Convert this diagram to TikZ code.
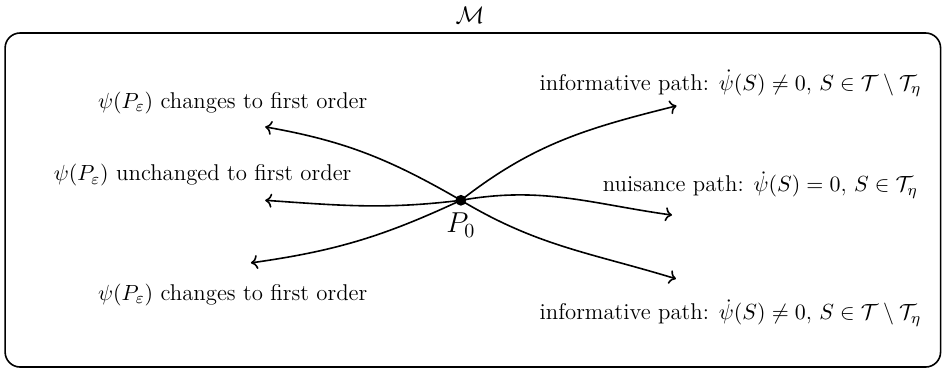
\documentclass[tikz,border=0pt]{standalone}
\usepackage{amsmath,amssymb}
\usetikzlibrary{arrows.meta,positioning}
\tikzset{
  tan/frame/.style={
    draw=black,
    thick,
    rounded corners=7.5pt
  },
  tan/dot/.style={circle, fill=black, inner sep=0pt, minimum size=0.19cm},
  tan/arrow/.style={->, thick, draw=black},
  tan/label/.style={font=\fontsize{11.4}{13}\selectfont, text=black, align=center, inner sep=1pt},
  tan/title/.style={font=\large, text=black}
}

\begin{document}
\begin{tikzpicture}[x=1cm,y=1cm]
  \useasboundingbox (0,0) rectangle (16.59,6.52);
  \draw[tan/frame] (0.09,0.07) rectangle (16.53,5.94);
  \node[tan/title] (model) at (8.26,6.25) {$\mathcal{M}$};

  \node[tan/dot] (p0) at (8.10,3.00) {};
  \node[font=\Large,below=0pt of p0] (p0lab) {$P_0$};

  \coordinate (upleft) at (4.66,4.29);
  \coordinate (midleft) at (4.66,3.00);
  \coordinate (lowleft) at (4.41,1.90);
  \coordinate (upright) at (11.89,4.66);
  \coordinate (midright) at (11.81,2.74);
  \coordinate (lowright) at (11.88,1.62);

  \draw[tan/arrow] (p0.center) to[out=150,in=-10] (upleft);
  \draw[tan/arrow] (p0.center) to[out=187,in=-4] (midleft);
  \draw[tan/arrow] (p0.center) to[out=205,in=8] (lowleft);
  \draw[tan/arrow] (p0.center) to[out=38,in=194] (upright);
  \draw[tan/arrow] (p0.center) to[out=10,in=172] (midright);
  \draw[tan/arrow] (p0.center) to[out=-31,in=163] (lowright);

  \node[tan/label] (ulab) at (4.09,4.71) {$\psi(P_\varepsilon)$ changes to first order};
  \node[tan/label] (mlab) at (3.56,3.44) {$\psi(P_\varepsilon)$ unchanged to first order};
  \node[tan/label] (llab) at (4.09,1.34) {$\psi(P_\varepsilon)$ changes to first order};
  \node[tan/label,anchor=east] (urlab) at (16.23,5.06) {informative path: $\dot\psi(S)\neq 0$, $S\in\mathcal{T}\setminus\mathcal{T}_\eta$};
  \node[tan/label,anchor=east] (mrlab) at (16.17,3.27) {nuisance path: $\dot\psi(S)=0$, $S\in\mathcal{T}_\eta$};
  \node[tan/label,anchor=east] (lrlab) at (16.23,1.02) {informative path: $\dot\psi(S)\neq 0$, $S\in\mathcal{T}\setminus\mathcal{T}_\eta$};
\end{tikzpicture}
\end{document}
